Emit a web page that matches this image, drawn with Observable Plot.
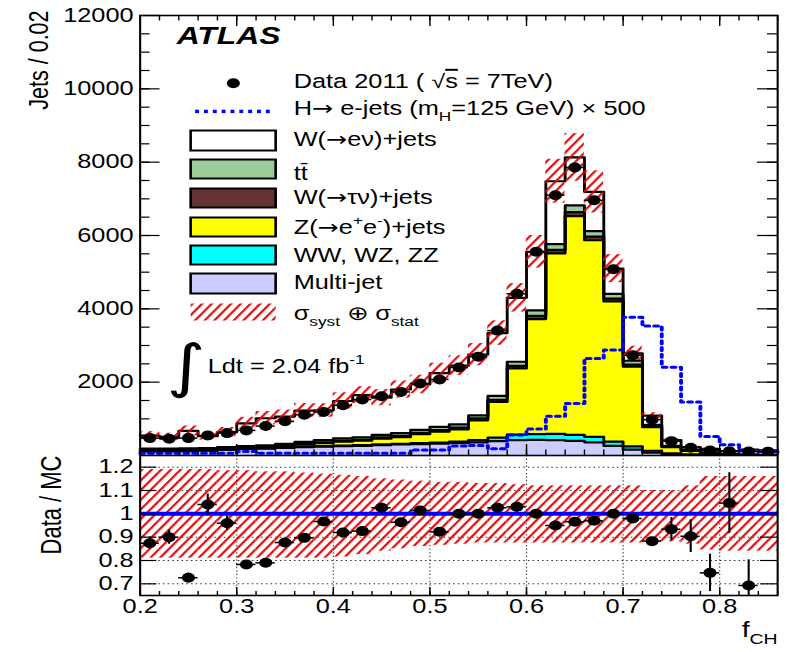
<!DOCTYPE html>
<html><head><meta charset="utf-8">
<script src="https://cdn.jsdelivr.net/npm/d3@7"></script>
<script src="https://cdn.jsdelivr.net/npm/@observablehq/plot@0.6"></script>
<style>
html,body{margin:0;padding:0;background:#fff;}
#chart{width:788px;height:652px;overflow:hidden;}
#chart svg{display:block;}
</style></head><body>
<svg width="0" height="0" style="position:absolute">
<defs>
<pattern id="hatch" patternUnits="userSpaceOnUse" width="5.9" height="10" patternTransform="rotate(37.6)">
<line x1="1" y1="-5" x2="1" y2="15" stroke="#e60000" stroke-width="1.8"/>
</pattern>
<pattern id="bluedots" patternUnits="userSpaceOnUse" width="6.8" height="40">
<rect x="0" y="0" width="3" height="40" fill="#0000ff"/>
</pattern>
</defs></svg>
<div id="chart"></div>
<script>
// ---------------- data ----------------
const binCenter = [0.21,0.23,0.25,0.27,0.29,0.31,0.33,0.35,0.37,0.39,0.41,0.43,0.45,0.47,0.49,0.51,0.53,0.55,0.57,0.59,0.61,0.63,0.65,0.67,0.69,0.71,0.73,0.75,0.77,0.79,0.81,0.83,0.85];
const dataCounts = [474,457,474,548,611,685,803,932,1110,1187,1370,1526,1617,1735,1964,2074,2400,2694,3406,4411,5555,7100,7855,6960,5078,2731,977,392,210,137,118,110,105];
const multiJet   = [110,115,120,130,150,170,190,210,230,240,255,265,285,300,310,325,340,360,390,420,425,420,400,360,260,160,80,40,20,10,8,5,5];
const diboson    = [10,10,10,10,10,12,12,14,15,16,18,18,20,20,25,30,40,60,100,150,160,170,160,150,120,90,50,20,10,5,4,3,2];
const zeeJets    = [20,20,20,20,20,18,18,30,50,80,105,120,155,180,245,295,335,540,970,1805,3135,4920,5970,5360,3820,2170,645,170,95,50,25,10,5];
const wTauNuJets = [15,15,15,15,15,15,18,20,22,25,28,30,32,35,38,40,45,50,60,70,90,100,110,100,80,60,25,10,8,5,3,2,1];
const ttbar      = [30,30,30,30,35,40,42,45,53,60,62,65,68,75,82,90,90,87,105,112,147,155,180,150,130,104,39,22,17,10,7,5,4];
const wENuJets   = [357,318,475,322,406,620,736,743,852,807,1019,1148,1016,1190,1237,1467,1600,1654,1714,1743,1600,1715,1310,1070,686,202,250,160,82,100,70,135,125];
const signalX500 = [60,60,60,60,60,110,60,60,60,60,60,60,60,60,150,150,260,275,183,560,720,1068,1416,2648,2877,3772,3530,2410,1461,520,290,130,105];
const mainBandRel = [0.20,0.20,0.20,0.20,0.20,0.19,0.18,0.17,0.16,0.15,0.15,0.14,0.14,0.13,0.13,0.12,0.11,0.11,0.10,0.09,0.08,0.08,0.08,0.08,0.075,0.07,0.07,0.08,0.08,0.08,0.08,0.08,0.08];
const ratioValue = [0.874,0.90,0.726,1.04,0.96,0.783,0.79,0.877,0.897,0.967,0.92,0.926,1.026,0.964,1.014,0.923,1.0,1.0,1.026,1.03,1.0,0.95,0.966,0.97,1.0,0.98,0.883,0.934,0.904,0.747,1.046,0.693,null];
const ratioErr   = [0.027,0.03,0.02,0.045,0.03,0.015,0.015,0.015,0.015,0.015,0.01,0.01,0.01,0.01,0.01,0.01,0.01,0.01,0.01,0.01,0.01,0.01,0.01,0.01,0.01,0.01,0.015,0.05,0.07,0.08,0.13,0.11,null];
const ratioBandLo = [0.81,0.81,0.81,0.81,0.81,0.81,0.81,0.81,0.81,0.81,0.815,0.825,0.84,0.85,0.86,0.865,0.87,0.875,0.875,0.875,0.875,0.875,0.875,0.875,0.875,0.875,0.88,0.88,0.87,0.845,0.84,0.84,0.84];
const ratioBandHi = [1.19,1.19,1.19,1.19,1.185,1.185,1.18,1.18,1.175,1.17,1.165,1.16,1.15,1.145,1.14,1.135,1.135,1.13,1.13,1.125,1.12,1.12,1.12,1.12,1.12,1.12,1.1,1.1,1.12,1.16,1.16,1.16,1.16];
const yMainTicks = [2000,4000,6000,8000,10000,12000];
const yRatioTicks = [0.7,0.8,0.9,1,1.1,1.2];
const xTicks = [0.2,0.3,0.4,0.5,0.6,0.7,0.8];
const binWidth = 0.02;

// ---------------- layout ----------------
const K = 1.3;                 // horizontal stretch of the original figure
const W0 = 788 / K;
const ML = 139.5 / K, MR = (788 - 777) / K;
const plotW = W0 - ML - MR;
const H1 = 455, H2 = 197;
const font = "'Liberation Sans', Arial, Helvetica, sans-serif";
const black = "black";
const sx = px => px / K - ML;   // screen x (px) -> offset from frame left, in plot units

const layers = [
  {values: multiJet,   fill: "#ccccff"},
  {values: diboson,    fill: "#00ffff"},
  {values: zeeJets,    fill: "#ffff00"},
  {values: wTauNuJets, fill: "#663333"},
  {values: ttbar,      fill: "#99cc99"},
  {values: wENuJets,   fill: "#ffffff"}
];
const rows = binCenter.map((c, i) => {
  let acc = 0; const lo = [], hi = [];
  for (const L of layers) { lo.push(acc); acc += L.values[i]; hi.push(acc); }
  return {c, x0: c - binWidth / 2, x1: c + binWidth / 2, lo, hi, total: acc,
          data: dataCounts[i], sig: signalX500[i], unc: mainBandRel[i],
          ratio: ratioValue[i], rerr: ratioErr[i], rlo: ratioBandLo[i], rhi: ratioBandHi[i]};
});
const edgeRows = rows.map(r => ({...r, x: r.x0}))
  .concat([{...rows[rows.length - 1], x: rows[rows.length - 1].x1}]);

const xMinor = d3.range(10, 44).map(i => i / 50);
const xMajor = [0.3,0.4,0.5,0.6,0.7,0.8];
const yMinor = d3.range(500, 12000, 500);

// ---------------- legend ----------------
const ARROW = {t: "→", font: "DejaVu Sans"};
const legendRows = [
  {kind: "box", fill: "#ffffff", y0: 115, y1: 135, base: 130, parts: [{t: "W("}, ARROW, {t: "eν)+jets"}]},
  {kind: "box", fill: "#99cc99", y0: 144, y1: 163, base: 164, parts: [{t: "tt̄"}]},
  {kind: "box", fill: "#663333", y0: 173, y1: 192, base: 188.3, parts: [{t: "W("}, ARROW, {t: "τν)+jets"}]},
  {kind: "box", fill: "#ffff00", y0: 202, y1: 221, base: 218, parts: [{t: "Z("}, ARROW, {t: "e"}, {t: "+", sup: true}, {t: "e"}, {t: "-", sup: true}, {t: ")+jets"}]},
  {kind: "box", fill: "#00ffff", y0: 230, y1: 249, base: 246.7, parts: [{t: "WW, WZ, ZZ"}]},
  {kind: "box", fill: "#ccccff", y0: 258, y1: 278, base: 273.3, parts: [{t: "Multi-jet"}]},
  {kind: "hatch", y0: 288, y1: 305, base: 304, parts: [{t: "σ"}, {t: "syst", sub: true}, {t: " ⊕ σ"}, {t: "stat", sub: true}]}
];
const legendDx = sx(293);
const boxL = sx(190), boxR = plotW - sx(275);
const plain = parts => parts.map(p => p.t).join("");
const dataParts = [{t: "Data 2011 ( √"}, {t: "s", over: true}, {t: " = 7TeV)"}];
const sigParts = [{t: "H"}, ARROW, {t: " e-jets (m"}, {t: "H", sub: true}, {t: "=125 GeV) × 500"}];
const lumiParts = [{t: "Ldt = 2.04 fb"}, {t: "-1", sup: true}];
const fchParts = [{t: "f"}, {t: "CH", sub: true}];
const richList = [];

const legendMarks = [];
legendMarks.push(Plot.dot([0], {frameAnchor: "top-left", dx: sx(232.7), dy: 67.7, r: 5, fill: black}));
legendMarks.push(Plot.text([plain(dataParts)], {frameAnchor: "top-left", dx: legendDx, dy: 72.3, textAnchor: "start", lineAnchor: "bottom", fontSize: 19.5}));
richList.push([dataParts, 19.5]);
legendMarks.push(Plot.frame({insetLeft: boxL, insetRight: plotW - sx(273), insetTop: 94.2, insetBottom: 440 - 97.6, fill: "url(#bluedots)", stroke: "none"}));
legendMarks.push(Plot.text([plain(sigParts)], {frameAnchor: "top-left", dx: legendDx, dy: 99, textAnchor: "start", lineAnchor: "bottom", fontSize: 19.5}));
richList.push([sigParts, 19.5]);
for (const r of legendRows) {
  if (r.kind === "box")
    legendMarks.push(Plot.frame({insetLeft: boxL, insetRight: boxR, insetTop: r.y0, insetBottom: 440 - r.y1, fill: r.fill, stroke: black, strokeWidth: 2}));
  else
    legendMarks.push(Plot.frame({insetLeft: boxL, insetRight: boxR, insetTop: r.y0, insetBottom: 440 - r.y1, fill: "url(#hatch)", stroke: "none"}));
  legendMarks.push(Plot.text([plain(r.parts)], {frameAnchor: "top-left", dx: legendDx, dy: r.base, textAnchor: "start", lineAnchor: "bottom", fontSize: 19.5}));
  if (r.parts.length > 1) richList.push([r.parts, 19.5]);
}

// ---------------- main panel ----------------
const mainPlot = Plot.plot({
  width: W0, height: H1,
  marginLeft: ML, marginRight: MR, marginTop: 15, marginBottom: 0,
  style: {fontFamily: font, fontSize: "19.5px", color: black, background: "white"},
  x: {domain: [0.2, 0.86], axis: null},
  y: {domain: [0, 12000], ticks: yMainTicks, tickSize: 0, tickPadding: 5, tickFormat: d => String(d), label: null},
  marks: [
    ...layers.map((L, k) => Plot.area(edgeRows, {x1: "x", y1: d => d.lo[k], y2: d => d.hi[k], curve: "step-after", fill: L.fill})),
    ...layers.map((L, k) => Plot.lineY(edgeRows, {x: "x", y: d => d.hi[k], curve: "step-after", stroke: black, strokeWidth: 2.2})),
    Plot.rect(rows, {x1: "x0", x2: "x1", y1: d => d.total * (1 - d.unc), y2: d => d.total * (1 + d.unc), fill: "url(#hatch)"}),
    Plot.lineY(edgeRows, {x: "x", y: "sig", curve: "step-after", stroke: "#0000ff", strokeWidth: 3, strokeDasharray: "3,3.8"}),
    Plot.ruleY(rows, {y: "data", x1: "x0", x2: "x1", stroke: black, strokeWidth: 1.5}),
    Plot.dot(rows, {x: "c", y: "data", r: 5, fill: black}),
    // inward ticks
    Plot.ruleY(yMinor, {y: d => d, insetRight: plotW - 7.7, stroke: black, strokeWidth: 1.2}),
    Plot.ruleY(yMainTicks, {y: d => d, insetRight: plotW - 15.4, stroke: black, strokeWidth: 1.2}),
    Plot.ruleY(yMinor, {y: d => d, insetLeft: plotW - 7.7, stroke: black, strokeWidth: 1.2}),
    Plot.ruleY(yMainTicks, {y: d => d, insetLeft: plotW - 15.4, stroke: black, strokeWidth: 1.2}),
    Plot.ruleX(xMinor, {x: d => d, insetTop: 440 - 5.5, stroke: black, strokeWidth: 1.1}),
    Plot.ruleX(xMajor, {x: d => d, insetTop: 440 - 11, stroke: black, strokeWidth: 1.1}),
    Plot.ruleX(xMinor, {x: d => d, insetBottom: 440 - 5.5, stroke: black, strokeWidth: 1.1}),
    Plot.ruleX(xMajor, {x: d => d, insetBottom: 440 - 11, stroke: black, strokeWidth: 1.1}),
    Plot.frame({stroke: black, strokeWidth: 1.6}),
    // texts
    Plot.text(["ATLAS"], {frameAnchor: "top-left", dx: sx(176), dy: 28, textAnchor: "start", lineAnchor: "bottom", fontSize: 24.5, fontWeight: "bold", fontStyle: "italic"}),
    Plot.text(["Jets / 0.02"], {frameAnchor: "top-left", dx: 29.6 - ML, dy: -5, rotate: -90, textAnchor: "end", lineAnchor: "middle", fontSize: 21.5}),
    Plot.text(["∫"], {frameAnchor: "top-left", dx: sx(205), dy: 352, textAnchor: "end", lineAnchor: "middle", fontSize: 58, fontFamily: "DejaVu Sans"}),
    Plot.text([plain(lumiParts)], {frameAnchor: "top-left", dx: sx(207), dy: 357, textAnchor: "start", lineAnchor: "bottom", fontSize: 19.5}),
    ...legendMarks
  ]
});
richList.push([lumiParts, 19.5]);

// ---------------- ratio panel ----------------
const rRows = rows.filter(r => r.ratio != null);
const ratioPlot = Plot.plot({
  width: W0, height: H2,
  marginLeft: ML, marginRight: MR, marginTop: 0, marginBottom: 57,
  style: {fontFamily: font, fontSize: "19.5px", color: black, background: "white"},
  x: {domain: [0.2, 0.86], ticks: xTicks, tickSize: 0, tickPadding: 4, tickFormat: d => String(d), label: null},
  y: {domain: [0.65, 1.25], ticks: yRatioTicks, tickSize: 0, tickPadding: 5, tickFormat: d => String(d), label: null},
  marks: [
    Plot.ruleY(yRatioTicks, {y: d => d, stroke: "#333", strokeWidth: 1, strokeDasharray: "1.2,2.4"}),
    Plot.ruleX(xMajor, {x: d => d, stroke: "#333", strokeWidth: 0.9, strokeDasharray: "1.2,2.4"}),
    Plot.rect(rows, {x1: "x0", x2: "x1", y1: "rlo", y2: "rhi", fill: "url(#hatch)"}),
    Plot.ruleY([1], {y: d => d, stroke: "#0000ff", strokeWidth: 4}),
    Plot.ruleY(rRows, {y: "ratio", x1: "x0", x2: "x1", stroke: black, strokeWidth: 1.5}),
    Plot.ruleX(rRows, {x: "c", y1: d => d.ratio - d.rerr, y2: d => d.ratio + d.rerr, stroke: black, strokeWidth: 1.6, clip: true}),
    Plot.dot(rRows, {x: "c", y: "ratio", r: 5, fill: black}),
    Plot.ruleY(yRatioTicks, {y: d => d, insetRight: plotW - 13, stroke: black, strokeWidth: 1.2}),
    Plot.ruleY(yRatioTicks, {y: d => d, insetLeft: plotW - 13, stroke: black, strokeWidth: 1.2}),
    Plot.ruleX(xMinor, {x: d => d, insetTop: 140 - 4, stroke: black, strokeWidth: 1.1}),
    Plot.ruleX(xTicks, {x: d => d, insetTop: 140 - 8, stroke: black, strokeWidth: 1.1}),
    Plot.frame({stroke: black, strokeWidth: 1.6}),
    Plot.text(["Data / MC"], {frameAnchor: "top-left", dx: 39 - ML, dy: 0, rotate: -90, textAnchor: "end", lineAnchor: "middle", fontSize: 22}),
    Plot.text([plain(fchParts)], {frameAnchor: "bottom-right", dx: 0, dy: 41, textAnchor: "end", lineAnchor: "bottom", fontSize: 22})
  ]
});

// ---------------- rich text (sub/superscripts) ----------------
const SVGNS = "http://www.w3.org/2000/svg";
function richify(svg, parts, fs) {
  const p0 = plain(parts);
  svg.querySelectorAll("text").forEach(t => {
    if (t.textContent !== p0) return;
    t.textContent = "";
    let shift = 0;
    for (const p of parts) {
      const ts = document.createElementNS(SVGNS, "tspan");
      let target = 0, size = fs;
      if (p.sub) { target = 0.33 * fs; size = 0.68 * fs; }
      if (p.sup) { target = -0.42 * fs; size = 0.68 * fs; }
      if (target - shift !== 0) ts.setAttribute("dy", target - shift);
      shift = target;
      ts.setAttribute("font-size", size);
      if (p.font) ts.setAttribute("font-family", p.font);
      if (p.over) ts.setAttribute("text-decoration", "overline");
      ts.textContent = p.t;
      t.appendChild(ts);
    }
  });
}
for (const [parts, fs] of richList) richify(mainPlot, parts, fs);
richify(ratioPlot, fchParts, 22);

// ---------------- stretch to the figure's aspect ----------------
function stretch(svg, h) {
  svg.setAttribute("viewBox", `0 0 ${W0} ${h}`);
  svg.setAttribute("width", 788);
  svg.setAttribute("height", h);
  svg.setAttribute("preserveAspectRatio", "none");
  svg.style.width = "788px";
  svg.style.height = h + "px";
  svg.style.maxWidth = "none";
}
stretch(mainPlot, H1);
stretch(ratioPlot, H2);
document.getElementById("chart").append(mainPlot, ratioPlot);
</script>
</body></html>
